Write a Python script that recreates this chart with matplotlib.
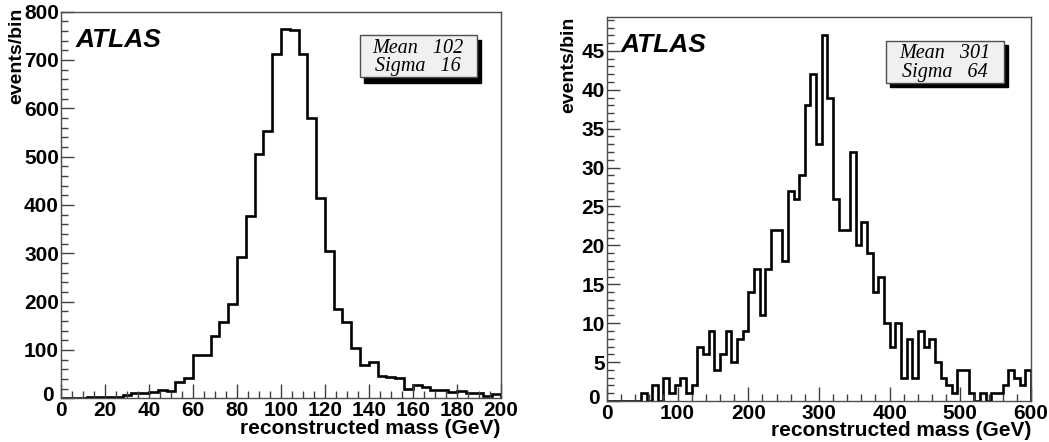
import numpy as np
import matplotlib
matplotlib.use("Agg")
import matplotlib.pyplot as plt
from matplotlib.patches import Rectangle
from matplotlib.ticker import MultipleLocator, FuncFormatter

# left: 4 GeV bins, 0-200
left_counts = [0, 0, 1, 2, 2, 3, 3, 7, 11, 10,
               14, 18, 15, 34, 42, 89, 90, 128, 157, 195,
               292, 378, 506, 554, 712, 764, 762, 713, 580, 414,
               304, 184, 158, 104, 68, 75, 47, 45, 43, 20,
               28, 23, 17, 18, 14, 15, 11, 10, 4, 9]
left_range = (0, 200)
left_stats = ["Mean   102", "Sigma   16"]

# right: 8 GeV bins, 0-600
right_counts = [0, 0, 0, 0, 0, 0, 1, 0, 2, 0,
                3, 1, 2, 3, 1, 2, 7, 6, 9, 4,
                6, 9, 5, 8, 9, 14, 17, 11, 17, 22,
                22, 18, 27, 26, 29, 38, 42, 33, 47, 39,
                26, 22, 22, 32, 20, 23, 19, 14, 16, 10,
                7, 10, 3, 8, 3, 9, 7, 8, 5, 3,
                2, 1, 4, 4, 1, 0, 1, 0, 1, 1,
                2, 4, 3, 2, 4]
right_range = (0, 600)
right_stats = ["Mean   301", "Sigma   64"]

plt.rcParams['font.family'] = ['Liberation Sans', 'DejaVu Sans']

fig = plt.figure(figsize=(10.49, 4.42), dpi=100)
axL = fig.add_axes([0.0582, 0.0989, 0.4192, 0.8747])
axR = fig.add_axes([0.5786, 0.0928, 0.4042, 0.8695])

# y "0" is drawn by hand so it sits left of the x "0", ROOT style
no_zero = FuncFormatter(lambda v, p: '' if v == 0 else f'{v:g}')


def draw(ax, counts, xr, ytop, xmaj, xmin, ymaj, ymin, stats, box, ylab_x, ylab_y):
    edges = np.linspace(xr[0], xr[1], len(counts) + 1)
    ax.stairs(counts, edges, color='k', lw=1.9, baseline=0)
    ax.set_xlim(*xr)
    ax.set_ylim(0, ytop)
    ax.xaxis.set_major_locator(MultipleLocator(xmaj))
    ax.xaxis.set_minor_locator(MultipleLocator(xmin))
    ax.yaxis.set_major_locator(MultipleLocator(ymaj))
    ax.yaxis.set_minor_locator(MultipleLocator(ymin))
    ax.yaxis.set_major_formatter(no_zero)
    ax.tick_params(which='both', direction='in', top=False, right=False, color='0.25')
    ax.tick_params(axis='x', which='major', length=10, width=1, pad=2)
    ax.tick_params(axis='x', which='minor', length=5, width=1)
    ax.tick_params(axis='y', which='major', length=9, width=1, pad=1.5)
    ax.tick_params(axis='y', which='minor', length=5, width=1)
    for lab in ax.get_xticklabels() + ax.get_yticklabels():
        lab.set_fontweight('bold')
        lab.set_fontsize(15)
    ax.text(-0.016, 0.006, '0', ha='right', va='center', fontsize=15,
            fontweight='bold', transform=ax.transAxes, clip_on=False)
    for s in ax.spines.values():
        s.set_color('0.3')
        s.set_linewidth(1.0)
    ax.set_xlabel('reconstructed mass (GeV)', loc='right', fontsize=15,
                  fontweight='bold', labelpad=-1)
    ax.text(ylab_x, ylab_y, 'events/bin', rotation=90, ha='center', va='top',
            fontsize=14, fontweight='bold', transform=ax.transAxes, clip_on=False)
    ax.text(0.032, 0.908, 'ATLAS', fontsize=19, fontweight='bold', style='italic',
            transform=ax.transAxes)
    x0, y0, w, h, dx, dy = box
    ax.add_patch(Rectangle((x0 + dx, y0 - dy), w, h, transform=ax.transAxes,
                           facecolor='k', edgecolor='k', zorder=4))
    ax.add_patch(Rectangle((x0, y0), w, h, transform=ax.transAxes,
                           facecolor='#f0f0f0', edgecolor='0.3', lw=1.0, zorder=5))
    for i, line in enumerate(stats):
        ax.text(x0 + w / 2, y0 + h * (0.69 - 0.44 * i), line, ha='center', va='center',
                family=['Liberation Serif', 'DejaVu Serif'], style='italic',
                fontsize=14.5, transform=ax.transAxes, zorder=6)


draw(axL, left_counts, left_range, 800, 20, 5, 100, 20, left_stats,
     (0.679, 0.8305, 0.266, 0.109, 0.009, 0.014), -0.101, 1.01)
draw(axR, right_counts, right_range, 49.4, 100, 20, 5, 1, right_stats,
     (0.658, 0.828, 0.278, 0.1095, 0.009, 0.012), -0.09, 1.0)

fig.savefig('out.png', dpi=100)
